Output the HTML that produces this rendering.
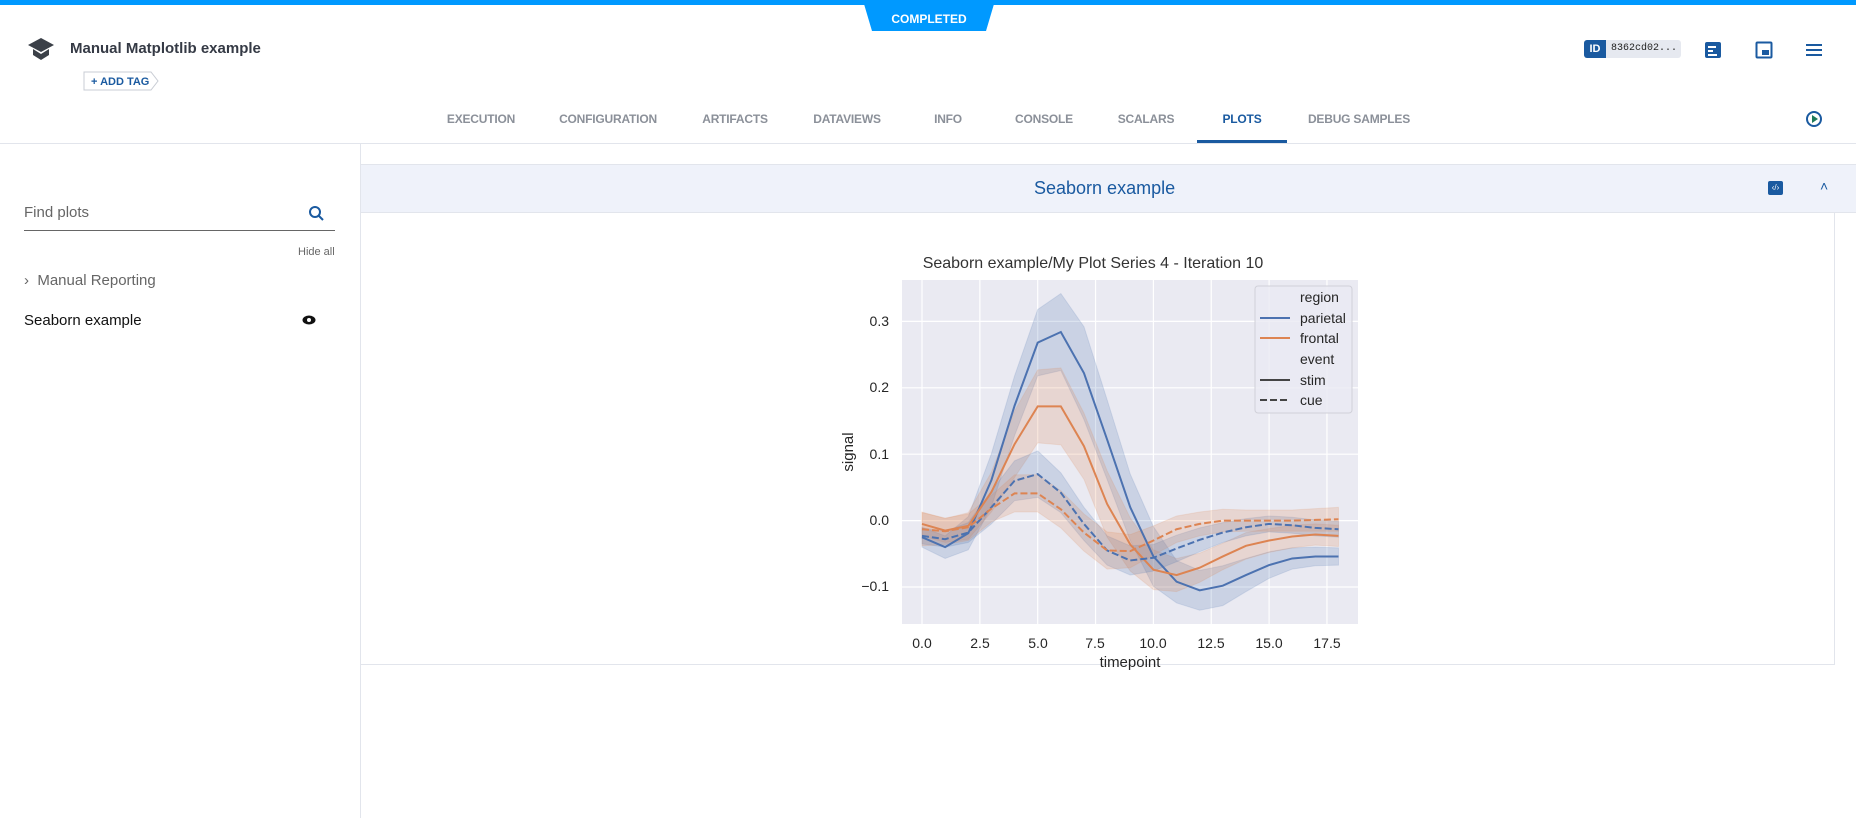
<!DOCTYPE html>
<html><head><meta charset="utf-8">
<style>
*{margin:0;padding:0;box-sizing:border-box}
body{width:1856px;height:818px;background:#fff;font-family:"Liberation Sans",sans-serif;position:relative;overflow:hidden}
.a{position:absolute}
.tab{position:absolute;top:112px;font-size:12px;font-weight:bold;color:#8b9099;transform:translateX(-50%);white-space:nowrap;letter-spacing:-0.2px}
</style></head><body>
<div class="a" style="left:0;top:0;width:1856px;height:5px;background:#0099ff"></div>
<svg class="a" style="left:864px;top:4px" width="130" height="28"><polygon points="0,0 130,0 122,27 8,27" fill="#0099ff"/><text x="65" y="19" text-anchor="middle" font-size="12" font-weight="bold" fill="#fff" font-family="Liberation Sans">COMPLETED</text></svg>
<svg class="a" style="left:27px;top:37px" width="28" height="24"><polygon points="14,1 27,8 14,15 1,8" fill="#3b4048"/><path d="M6,12 v6 l8,5 8,-5 v-6 l-8,5z" fill="#3b4048"/></svg>
<div class="a" style="left:70px;top:40px;font-size:15px;font-weight:bold;color:#353a45">Manual Matplotlib example</div>
<svg class="a" style="left:83px;top:71px" width="76" height="20"><path d="M1,1 H68 L75,10 L68,19 H1z" fill="#fff" stroke="#c8ccd4"/><text x="8" y="14" font-size="11" font-weight="bold" fill="#1a5aa0" font-family="Liberation Sans">+ ADD TAG</text></svg>
<div class="a" style="left:1584px;top:40px;width:97px;height:18px;background:#e6e9f0;border-radius:3px"></div>
<div class="a" style="left:1584px;top:40px;width:22px;height:18px;background:#1a5aa0;border-radius:3px 0 0 3px;color:#fff;font-size:11px;font-weight:bold;text-align:center;line-height:18px">ID</div>
<div class="a" style="left:1611px;top:43px;font-family:'Liberation Mono',monospace;font-size:10px;color:#222">8362cd02...</div>
<svg class="a" style="left:1704px;top:41px" width="18" height="18"><rect x="1" y="1" width="16" height="16" rx="2" fill="#1a5aa0"/><rect x="4" y="5" width="8" height="2" fill="#fff"/><rect x="4" y="9" width="5" height="2" fill="#fff"/><rect x="4" y="13" width="9" height="2" fill="#fff"/></svg>
<svg class="a" style="left:1755px;top:41px" width="18" height="18"><rect x="1.5" y="1.5" width="15" height="15" rx="1" fill="none" stroke="#1a5aa0" stroke-width="2"/><rect x="7" y="9" width="7" height="5" fill="#1a5aa0"/></svg>
<div class="a" style="left:1806px;top:44px;width:16px;height:2px;background:#1a5aa0;box-shadow:0 5px 0 #1a5aa0,0 10px 0 #1a5aa0"></div>
<div class="tab" style="left:481px">EXECUTION</div>
<div class="tab" style="left:608px">CONFIGURATION</div>
<div class="tab" style="left:735px">ARTIFACTS</div>
<div class="tab" style="left:847px">DATAVIEWS</div>
<div class="tab" style="left:948px">INFO</div>
<div class="tab" style="left:1044px">CONSOLE</div>
<div class="tab" style="left:1146px">SCALARS</div>
<div class="tab" style="left:1242px;color:#1a5aa0">PLOTS</div>
<div class="tab" style="left:1359px">DEBUG SAMPLES</div>
<div class="a" style="left:1197px;top:140px;width:90px;height:3px;background:#1a5aa0"></div>
<div class="a" style="left:0;top:143px;width:1856px;height:1px;background:#e2e5ec"></div>
<svg class="a" style="left:1804px;top:109px" width="20" height="20"><circle cx="10" cy="10" r="7" fill="none" stroke="#1a5aa0" stroke-width="2"/><polygon points="8,6 14,10 8,14" fill="#1e7a5a"/></svg>
<div class="a" style="left:360px;top:144px;width:1px;height:674px;background:#e2e5ec"></div>
<div class="a" style="left:24px;top:204px;font-size:15px;color:#666">Find plots</div>
<svg class="a" style="left:308px;top:205px" width="18" height="18"><circle cx="7" cy="7" r="5" fill="none" stroke="#1a5aa0" stroke-width="2"/><line x1="11" y1="11" x2="15" y2="15" stroke="#1a5aa0" stroke-width="2"/></svg>
<div class="a" style="left:24px;top:230px;width:311px;height:1px;background:#666"></div>
<div class="a" style="left:298px;top:246px;font-size:11px;color:#666">Hide all</div>
<div class="a" style="left:24px;top:272px;font-size:15px;color:#666">›&nbsp;&nbsp;Manual Reporting</div>
<div class="a" style="left:24px;top:312px;font-size:15px;color:#111">Seaborn example</div>
<svg class="a" style="left:302px;top:315px" width="14" height="10"><ellipse cx="7" cy="5" rx="6.5" ry="4.5" fill="#111"/><circle cx="7" cy="5" r="2" fill="#fff"/></svg>
<div class="a" style="left:361px;top:164px;width:1495px;height:49px;background:#eff2fa;border-top:1px solid #e2e5ec;border-bottom:1px solid #e2e5ec"></div>
<div class="a" style="left:1034px;top:178px;font-size:18px;color:#1a5aa0">Seaborn example</div>
<div class="a" style="left:1768px;top:181px;width:15px;height:14px;background:#1a5aa0;border-radius:2px;color:#fff;font-size:8px;text-align:center;line-height:14px">‹/›</div>
<div class="a" style="left:1820px;top:178px;font-size:14px;color:#1a5aa0">˄</div>
<div class="a" style="left:1834px;top:213px;width:1px;height:452px;background:#e2e5ec"></div>
<div class="a" style="left:361px;top:664px;width:1474px;height:1px;background:#e2e5ec"></div>
<svg class="a" id="ch" style="left:0;top:0" width="1856" height="818" font-family="Liberation Sans">
<rect x="902" y="280" width="456" height="344" fill="#eaeaf2"/>
<g id="grid" stroke="#fff" stroke-width="1.2"></g>
<g id="data"></g>
<text x="1093" y="268" text-anchor="middle" font-size="16" fill="#333">Seaborn example/My Plot Series 4 - Iteration 10</text>
<g font-size="14" fill="#262626" text-anchor="end">
<text x="889" y="326">0.3</text><text x="889" y="392">0.2</text><text x="889" y="459">0.1</text><text x="889" y="525">0.0</text><text x="889" y="591">−0.1</text></g>
<g font-size="14" fill="#262626" text-anchor="middle">
<text x="922" y="648">0.0</text><text x="980" y="648">2.5</text><text x="1038" y="648">5.0</text><text x="1095" y="648">7.5</text><text x="1153" y="648">10.0</text><text x="1211" y="648">12.5</text><text x="1269" y="648">15.0</text><text x="1327" y="648">17.5</text>
<text x="1130" y="667" font-size="15">timepoint</text></g>
<text transform="translate(853,452) rotate(-90)" text-anchor="middle" font-size="15" fill="#262626">signal</text>
<rect x="1255" y="286" width="97" height="127" fill="#eaeaf2" fill-opacity="0.8" stroke="#d0d0d8" rx="3"/>
<g font-size="14" fill="#262626">
<text x="1300" y="302">region</text><text x="1300" y="323">parietal</text><text x="1300" y="343">frontal</text><text x="1300" y="364">event</text><text x="1300" y="385">stim</text><text x="1300" y="405">cue</text></g>
<line x1="1260" y1="318" x2="1290" y2="318" stroke="#4c72b0" stroke-width="2"/>
<line x1="1260" y1="338" x2="1290" y2="338" stroke="#dd8452" stroke-width="2"/>
<line x1="1260" y1="380" x2="1290" y2="380" stroke="#444" stroke-width="2"/>
<line x1="1260" y1="400" x2="1290" y2="400" stroke="#444" stroke-width="2" stroke-dasharray="7,3"/>
</svg>
<script>
var X=t=>922+t*23.14, Y=v=>520.6-v*664;
var g=document.getElementById('grid'),s='';
[0,2.5,5,7.5,10,12.5,15,17.5].forEach(t=>s+='<line x1="'+X(t)+'" x2="'+X(t)+'" y1="280" y2="624"/>');
[0.3,0.2,0.1,0,-0.1].forEach(v=>s+='<line y1="'+Y(v)+'" y2="'+Y(v)+'" x1="902" x2="1358"/>');
g.innerHTML=s;
var S=[
{c:'#4c72b0',d:0,m:[-0.025,-0.04,-0.019,0.061,0.173,0.268,0.284,0.222,0.122,0.02,-0.054,-0.092,-0.105,-0.098,-0.082,-0.067,-0.057,-0.054,-0.054],w:[0.015,0.017,0.025,0.04,0.045,0.05,0.058,0.07,0.06,0.05,0.045,0.032,0.03,0.03,0.025,0.02,0.016,0.014,0.013]},
{c:'#dd8452',d:0,m:[-0.005,-0.015,-0.008,0.043,0.115,0.172,0.172,0.112,0.025,-0.036,-0.074,-0.082,-0.071,-0.054,-0.038,-0.03,-0.024,-0.021,-0.023],w:[0.018,0.018,0.02,0.03,0.05,0.055,0.058,0.05,0.05,0.04,0.03,0.025,0.022,0.02,0.02,0.018,0.017,0.016,0.016]},
{c:'#4c72b0',d:1,m:[-0.023,-0.028,-0.018,0.02,0.06,0.07,0.042,-0.005,-0.045,-0.06,-0.056,-0.042,-0.029,-0.018,-0.01,-0.005,-0.007,-0.011,-0.013],w:[0.012,0.012,0.015,0.025,0.03,0.035,0.03,0.025,0.022,0.022,0.02,0.02,0.018,0.015,0.013,0.012,0.012,0.012,0.012]},
{c:'#dd8452',d:1,m:[-0.013,-0.016,-0.01,0.018,0.041,0.041,0.017,-0.018,-0.045,-0.046,-0.03,-0.013,-0.005,0,0,0,0,0.001,0.002],w:[0.025,0.02,0.02,0.02,0.028,0.028,0.028,0.028,0.028,0.025,0.022,0.02,0.018,0.017,0.016,0.016,0.016,0.017,0.018]}];
var h='';
S.forEach(o=>{var up=[],lo=[],ln=[];o.m.forEach((v,t)=>{up.push(X(t)+','+Y(v+o.w[t]));lo.unshift(X(t)+','+Y(v-o.w[t]));ln.push(X(t)+','+Y(v));});
h+='<polygon points="'+up.concat(lo).join(' ')+'" fill="'+o.c+'" fill-opacity="0.2" stroke="'+o.c+'" stroke-opacity="0.15"/>';
o.l=ln;});
S.forEach(o=>{h+='<polyline points="'+o.l.join(' ')+'" fill="none" stroke="'+o.c+'" stroke-width="2"'+(o.d?' stroke-dasharray="7,3"':'')+'/>';});
document.getElementById('data').innerHTML=h;
</script>
</body></html>
